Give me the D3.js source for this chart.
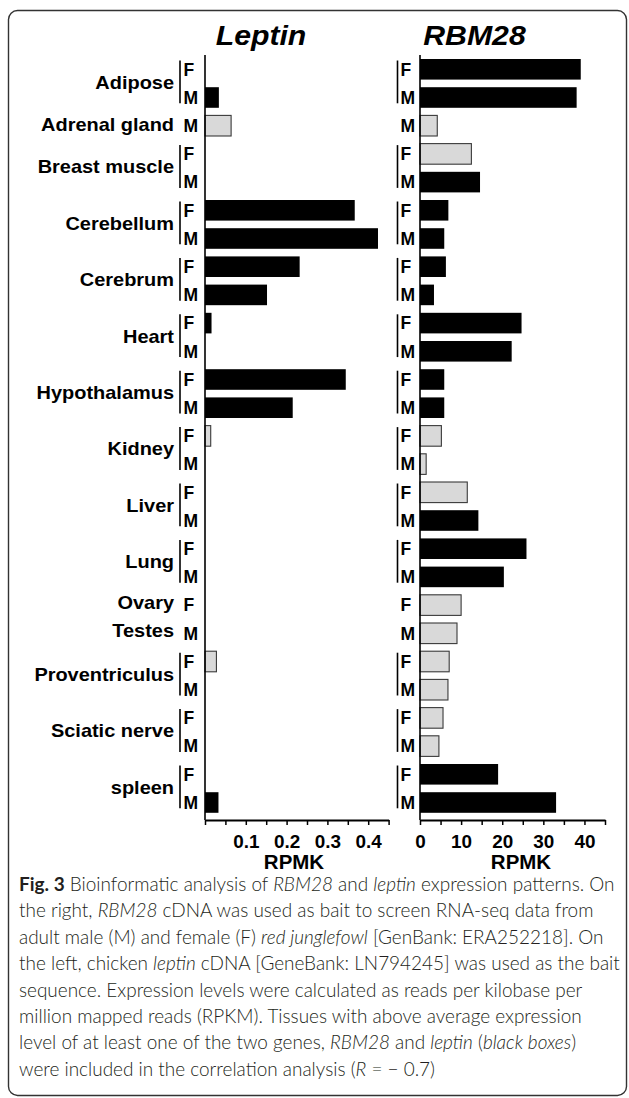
<!DOCTYPE html>
<html>
<head>
<meta charset="utf-8">
<script src="https://cdn.jsdelivr.net/npm/d3@7"></script>
<style>
  body { margin: 0; background: #fff; }
  svg { display: block; }
</style>
</head>
<body>
<div id="chart"></div>
<script>
// one entry per bar row, top to bottom
var rowTissue = ["Adipose", "Adipose", "Adrenal gland", "Breast muscle", "Breast muscle",
  "Cerebellum", "Cerebellum", "Cerebrum", "Cerebrum", "Heart", "Heart",
  "Hypothalamus", "Hypothalamus", "Kidney", "Kidney", "Liver", "Liver",
  "Lung", "Lung", "Ovary", "Testes", "Proventriculus", "Proventriculus",
  "Sciatic nerve", "Sciatic nerve", "spleen", "spleen"];
var rowSex = ["F", "M", "M", "F", "M", "F", "M", "F", "M", "F", "M", "F", "M", "F", "M",
  "F", "M", "F", "M", "F", "M", "F", "M", "F", "M", "F", "M"];

var leptinValues = [0, 0.034, 0.064, 0, 0, 0.367, 0.424, 0.232, 0.152, 0.016, 0,
  0.345, 0.215, 0.014, 0, 0, 0, 0, 0, 0, 0, 0.028, 0, 0, 0, 0, 0.033];
// 1 = black box (above average), 0 = grey box
var leptinBlack = [0, 1, 0, 0, 0, 1, 1, 1, 1, 1, 0, 1, 1, 0, 0, 0, 0, 0, 0, 0, 0, 0, 0, 0, 0, 0, 1];

var rbm28Values = [39.1, 38.1, 4.2, 12.5, 14.6, 6.9, 5.9, 6.3, 3.4, 24.7, 22.3,
  5.9, 5.9, 5.2, 1.5, 11.5, 14.2, 25.9, 20.4, 10.0, 9.0, 7.1, 6.8, 5.6, 4.6, 19.0, 33.1];
var rbm28Black = [1, 1, 0, 0, 1, 1, 1, 1, 1, 1, 1, 1, 1, 0, 0, 0, 1, 1, 1, 0, 0, 0, 0, 0, 0, 1, 1];

var leptinTicks = [0, 0.05, 0.1, 0.15, 0.2, 0.25, 0.3, 0.35, 0.4, 0.45];
var leptinTickLabels = ["", "", "0.1", "", "0.2", "", "0.3", "", "0.4", ""];
var rbm28Ticks = [0, 5, 10, 15, 20, 25, 30, 35, 40, 45];
var rbm28TickLabels = ["0", "", "10", "", "20", "", "30", "", "40", ""];

var captionLines = [
  [["Fig. 3", "b"], [" Bioinformatic analysis of "], ["RBM28", "i"], [" and "], ["leptin", "i"], [" expression patterns. On"]],
  [["the right, "], ["RBM28", "i"], [" cDNA was used as bait to screen RNA-seq data from"]],
  [["adult male (M) and female (F) "], ["red junglefowl", "i"], [" [GenBank: ERA252218]. On"]],
  [["the left, chicken "], ["leptin", "i"], [" cDNA [GeneBank: LN794245] was used as the bait"]],
  [["sequence. Expression levels were calculated as reads per kilobase per"]],
  [["million mapped reads (RPKM). Tissues with above average expression"]],
  [["level of at least one of the two genes, "], ["RBM28", "i"], [" and "], ["leptin", "i"], [" ("], ["black boxes", "i"], [")"]],
  [["were included in the correlation analysis ("], ["R", "i"], [" = \u2212 0.7)"]]
];

var width = 629, height = 1098;
var chartFont = "'Liberation Sans', Arial, Helvetica, sans-serif";
var stretch = 1.05;

var svg = d3.select("#chart").append("svg")
  .attr("width", width)
  .attr("height", height);

// rounded frame around figure + caption
svg.append("rect")
  .attr("x", 8.5).attr("y", 10.5)
  .attr("width", 618).attr("height", 1085)
  .attr("rx", 9)
  .attr("fill", "none")
  .attr("stroke", "#333")
  .attr("stroke-width", 1.4);

var y = d3.scaleBand()
  .domain(d3.range(rowTissue.length))
  .range([55.2, 816.6])
  .paddingInner(0.27)
  .paddingOuter(0.135);

var axisY = 820;

// group consecutive rows of the same tissue
var groups = [];
rowTissue.forEach(function(t, i) {
  var last = groups[groups.length - 1];
  if (last && last.tissue === t) last.rows.push(i);
  else groups.push({ tissue: t, rows: [i] });
});

var panels = [
  { title: "Leptin", values: leptinValues, black: leptinBlack, ticks: leptinTicks, labels: leptinTickLabels,
    x: d3.scaleLinear().domain([0, 0.45]).range([205, 388.6]),
    bracketX: 180, sexX: 183.5, titleX: 261, rpmkX: 294 },
  { title: "RBM28", values: rbm28Values, black: rbm28Black, ticks: rbm28Ticks, labels: rbm28TickLabels,
    x: d3.scaleLinear().domain([0, 45]).range([420, 605]),
    bracketX: 397.5, sexX: 400.5, titleX: 474.5, rpmkX: 521 }
];

panels.forEach(function(p) {
  var g = svg.append("g");

  // title
  g.append("text")
    .attr("transform", "translate(" + p.titleX + ",45) scale(1.08,1)")
    .attr("text-anchor", "middle")
    .attr("font-family", chartFont)
    .attr("font-weight", "bold")
    .attr("font-style", "italic")
    .attr("font-size", 28)
    .text(p.title);

  // bars
  g.selectAll("rect.bar")
    .data(p.values.map(function(v, i) { return { v: v, i: i, black: p.black[i] }; })
      .filter(function(d) { return d.v > 0; }))
    .enter()
    .append("rect")
    .attr("class", "bar")
    .attr("x", p.x(0))
    .attr("y", function(d) { return y(d.i); })
    .attr("width", function(d) { return p.x(d.v) - p.x(0); })
    .attr("height", y.bandwidth())
    .attr("fill", function(d) { return d.black ? "#000" : "#d9d9d9"; })
    .attr("stroke", function(d) { return d.black ? "none" : "#3a3a3a"; })
    .attr("stroke-width", 1.1);

  // vertical axis line
  g.append("line")
    .attr("x1", p.x(0)).attr("x2", p.x(0))
    .attr("y1", 55).attr("y2", axisY)
    .attr("stroke", "#000")
    .attr("stroke-width", 1.6);

  // x axis
  var xAxis = d3.axisBottom(p.x)
    .tickValues(p.ticks)
    .tickSize(5)
    .tickSizeOuter(0)
    .tickFormat(function(d, i) { return p.labels[i]; });

  var ax = g.append("g")
    .attr("transform", "translate(0," + axisY + ")")
    .call(xAxis);
  ax.select(".domain").attr("stroke", "#000").attr("stroke-width", 2.2);
  ax.selectAll(".tick line").attr("stroke", "#000").attr("stroke-width", 1.5);
  ax.selectAll(".tick text")
    .attr("y", 15)
    .attr("transform", "scale(" + stretch + ",1)")
    .attr("font-family", chartFont)
    .attr("font-weight", "bold")
    .attr("font-size", 18)
    .attr("fill", "#000");

  g.append("text")
    .attr("transform", "translate(" + p.rpmkX + ",869) scale(" + stretch + ",1)")
    .attr("text-anchor", "middle")
    .attr("font-family", chartFont)
    .attr("font-weight", "bold")
    .attr("font-size", 19.5)
    .text("RPMK");

  // sex letters
  g.selectAll("text.sex")
    .data(rowSex.map(function(s, i) { return { s: s, i: i }; }))
    .enter()
    .append("text")
    .attr("class", "sex")
    .attr("x", p.sexX)
    .attr("y", function(d) { return y(d.i) + y.bandwidth() / 2 + 6.2; })
    .attr("font-family", chartFont)
    .attr("font-weight", "bold")
    .attr("font-size", 17.5)
    .text(function(d) { return d.s; });

  // brackets for paired F/M rows
  g.selectAll("line.bracket")
    .data(groups.filter(function(gr) { return gr.rows.length > 1; }))
    .enter()
    .append("line")
    .attr("class", "bracket")
    .attr("x1", p.bracketX).attr("x2", p.bracketX)
    .attr("y1", function(gr) { return y(gr.rows[0]) + 1.5; })
    .attr("y2", function(gr) { return y(gr.rows[gr.rows.length - 1]) + y.bandwidth() - 4.5; })
    .attr("stroke", "#000")
    .attr("stroke-width", 1.6);
});

// tissue labels on the left
svg.selectAll("text.tissue")
  .data(groups)
  .enter()
  .append("text")
  .attr("class", "tissue")
  .attr("transform", function(gr) {
    var c0 = y(gr.rows[0]) + y.bandwidth() / 2;
    var c1 = y(gr.rows[gr.rows.length - 1]) + y.bandwidth() / 2;
    var single = gr.rows.length === 1 && (gr.tissue === "Ovary" || gr.tissue === "Testes");
    var cy = (c0 + c1) / 2 - (single ? 3 : 1.5);
    return "translate(174," + (cy + 6.8) + ") scale(" + stretch + ",1)";
  })
  .attr("text-anchor", "end")
  .attr("font-family", chartFont)
  .attr("font-weight", "bold")
  .attr("font-size", 19)
  .text(function(gr) { return gr.tissue; });

// caption
var cap = svg.append("g")
  .attr("font-family", "Lato, 'Open Sans', sans-serif")
  .attr("font-weight", 300)
  .attr("fill", "#231f20");

var capTexts = captionLines.map(function(line, li) {
  var t = cap.append("text")
    .attr("x", 19)
    .attr("y", 891 + li * 26.4)
    .attr("font-size", 16);
  line.forEach(function(seg) {
    var ts = t.append("tspan").text(seg[0]);
    if (seg[1] === "b") ts.attr("font-weight", 700);
    if (seg[1] === "i") ts.attr("font-style", "italic");
  });
  return t;
});

// fit first caption line to the measured width in the figure
var len0 = capTexts[0].node().getComputedTextLength();
var fs = 16 * 596 / len0;
capTexts.forEach(function(t) { t.attr("font-size", fs); });
</script>
</body>
</html>
